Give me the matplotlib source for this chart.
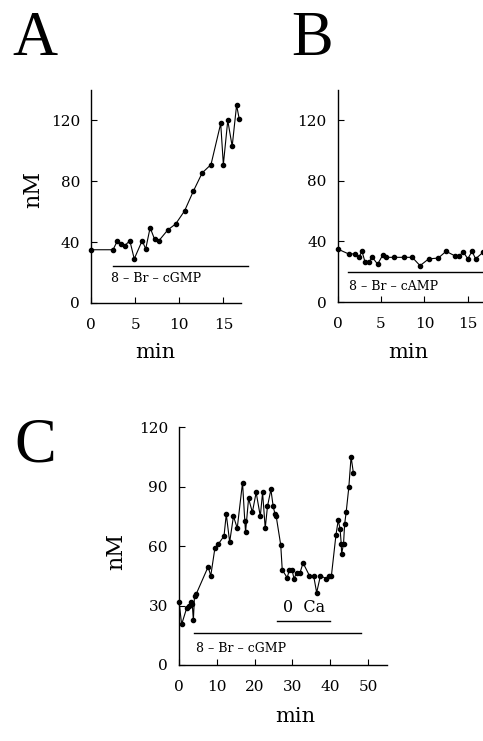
import matplotlib
matplotlib.use('Agg')
import matplotlib.pyplot as plt

# panel A : 8-Br-cGMP
a_min = [0, 2.5, 3.0, 3.4, 3.8, 4.4, 4.9, 5.8, 6.2, 6.7, 7.2, 7.7, 8.7, 9.6,
         10.6, 11.6, 12.6, 13.6, 14.7, 15.0, 15.5, 16.0, 16.5, 16.8]
a_nM = [35, 35, 41, 39, 37.5, 41, 29, 41, 35.5, 49.5, 42, 41, 48, 52,
        60.5, 73.5, 85.5, 91, 118, 91, 120, 103, 130, 121]

# panel B : 8-Br-cAMP
b_min = [0, 1.35, 2.0, 2.45, 2.8, 3.15, 3.6, 4.0, 4.6, 5.2, 5.6, 6.5, 7.6,
         8.6, 9.5, 10.5, 11.6, 12.5, 13.5, 14.0, 14.5, 15.0, 15.5, 15.9, 16.8]
b_nM = [35, 31.5, 32, 29.5, 33.5, 26.5, 26.5, 29.5, 25, 31, 29.5, 29.5, 29.5,
        29.5, 24, 28.5, 29, 33.5, 30.5, 30.5, 33, 28.5, 33.5, 28.5, 33]

# panel C : 8-Br-cGMP, then 0 Ca
c_min = [0, 0.7, 2.0, 2.7, 3.1, 3.5, 3.8, 4.1, 4.6, 7.7, 8.4, 9.5, 10.4, 11.9,
         12.5, 13.4, 14.4, 15.4, 16.8, 17.4, 17.6, 18.4, 19.4, 20.4, 21.5,
         22.1, 22.8, 23.4, 24.3, 24.9, 25.4, 25.7, 26.9, 27.3, 28.6, 29.2,
         29.9, 30.4, 31.1, 32.0, 32.8, 34.5, 35.6, 36.4, 37.4, 39.0, 39.6,
         40.3, 41.5, 42.1, 42.6, 42.9, 43.0, 43.5, 43.8, 44.2, 44.9, 45.5, 46.1]
c_nM = [32, 20.5, 28.5, 29.5, 32, 31, 22.5, 35, 36, 49.5, 45, 59, 61, 65,
        76, 62, 75, 69, 92, 72.5, 67, 84, 77, 87, 75,
        87, 69, 80, 88.5, 80, 76, 75, 60.5, 48, 44, 48,
        48, 43.5, 46.5, 46.5, 51.5, 45, 45, 36.5, 45, 43.5, 45,
        45, 65.5, 73, 68.5, 61, 56, 61, 71, 77, 89.5, 105, 97]

# treatment bars: (start, end, level)
a_bar = (2.5, 17.8, 24)
b_bar = (1.15, 17.0, 19.5)
c_bar = (4.0, 48.2, 16.3)
c_ca_bar = (25.9, 39.8, 22)

serif = 'DejaVu Serif'
big = 'Liberation Serif'
W, H = 483, 741

fig = plt.figure(figsize=(4.83, 7.41), dpi=100)


def box(l, t, r, b):
    return [l / W, 1 - b / H, (r - l) / W, (b - t) / H]


def style(ax):
    for s in ['top', 'right']:
        ax.spines[s].set_visible(False)
    for s in ['left', 'bottom']:
        ax.spines[s].set_linewidth(1.0)
    ax.tick_params(direction='in', length=4, width=0.8, labelsize=11)
    ax.tick_params(axis='x', pad=11)
    ax.tick_params(axis='y', pad=8)
    for lab in ax.get_xticklabels() + ax.get_yticklabels():
        lab.set_family(serif)


def trace(ax, x, y):
    ax.plot(x, y, color='black', lw=0.8, marker='o', ms=3.0, clip_on=False)


# A
axA = fig.add_axes(box(91, 90, 241, 303))
trace(axA, a_min, a_nM)
axA.plot(a_bar[:2], [a_bar[2]] * 2, color='black', lw=1.0, clip_on=False)
axA.text(2.3, 16, '8 \u2013 Br \u2013 cGMP', fontsize=9, family=serif, va='center')
axA.set_xlim(0, 17)
axA.set_ylim(0, 140)
axA.set_xticks([0, 5, 10, 15])
axA.set_yticks([0, 40, 80, 120])
style(axA)

# B
axB = fig.add_axes(box(337.7, 90, 337.7 + 17 * 8.67, 302))
trace(axB, b_min, b_nM)
axB.plot(b_bar[:2], [b_bar[2]] * 2, color='black', lw=1.0, clip_on=False)
axB.text(1.3, 10, '8 \u2013 Br \u2013 cAMP', fontsize=9, family=serif, va='center')
axB.set_xlim(0, 17)
axB.set_ylim(0, 140)
axB.set_xticks([0, 5, 10, 15])
axB.set_yticks([0, 40, 80, 120])
style(axB)

# C
axC = fig.add_axes(box(179, 427, 387, 665))
trace(axC, c_min, c_nM)
axC.plot(c_bar[:2], [c_bar[2]] * 2, color='black', lw=1.0, clip_on=False)
axC.plot(c_ca_bar[:2], [c_ca_bar[2]] * 2, color='black', lw=1.0, clip_on=False)
axC.text(4.5, 8.5, '8 \u2013 Br \u2013 cGMP', fontsize=9, family=serif, va='center')
axC.text(33, 29, '0  Ca', fontsize=11.5, family=serif, ha='center', va='center')
axC.set_xlim(0, 55)
axC.set_ylim(0, 120)
axC.set_xticks([0, 10, 20, 30, 40, 50])
axC.set_yticks([0, 30, 60, 90, 120])
style(axC)

# axis titles and panel letters
fig.text(155 / W, 1 - 353 / H, 'min', fontsize=15, family=serif, ha='center', va='center')
fig.text(408 / W, 1 - 353 / H, 'min', fontsize=15, family=serif, ha='center', va='center')
fig.text(295 / W, 1 - 716 / H, 'min', fontsize=15, family=serif, ha='center', va='center')
fig.text(33 / W, 1 - 190 / H, 'nM', fontsize=16, family=serif, rotation=90, ha='center', va='center')
fig.text(116 / W, 1 - 552 / H, 'nM', fontsize=16, family=serif, rotation=90, ha='center', va='center')
fig.text(35 / W, 1 - 40 / H, 'A', fontsize=45, family=big, ha='center', va='center')
fig.text(312 / W, 1 - 40 / H, 'B', fontsize=45, family=big, ha='center', va='center')
fig.text(35 / W, 1 - 447 / H, 'C', fontsize=45, family=big, ha='center', va='center')

plt.savefig('out.png', dpi=100)
